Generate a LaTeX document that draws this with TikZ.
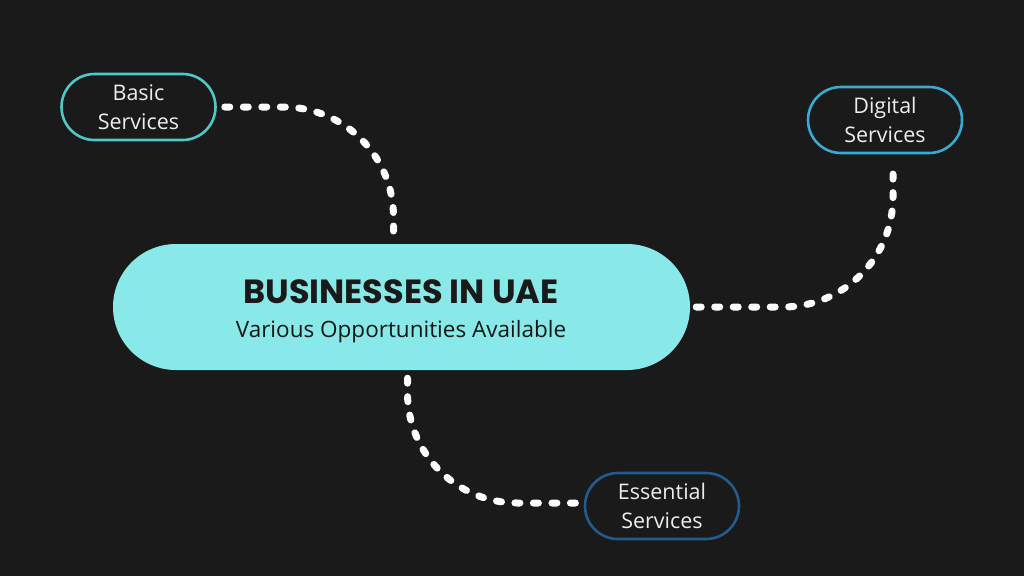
\documentclass[tikz,border=0pt]{standalone}
\usepackage{fontspec}
\setmainfont{Open Sans}
\newfontfamily\titlefont{Poppins}
\usetikzlibrary{shapes.misc}

\definecolor{bgcol}{HTML}{1A1A1A}
\definecolor{maincol}{HTML}{88E9E8}
\definecolor{basiccol}{HTML}{4FC8C6}
\definecolor{digitalcol}{HTML}{3AAAD0}
\definecolor{essentialcol}{HTML}{245A8C}
\definecolor{textcol}{HTML}{EDEDED}

\tikzset{
  service/.style={rounded rectangle, draw, line width=2.6pt, minimum width=154pt,
    minimum height=66pt, inner sep=0pt, align=center, text=textcol,
    font=\fontsize{21.5}{29}\selectfont},
  link/.style={draw=white, line width=7pt, line cap=round,
    dash pattern=on 5pt off 13.5pt, rounded corners=110pt}
}

\begin{document}
\begin{tikzpicture}[x=1pt, y=-1pt]
    \fill[bgcol] (0,0) rectangle (1024,576);
    \useasboundingbox (0,0) rectangle (1024,576);
    % centre
    \node [rounded rectangle, fill=maincol, minimum width=577pt, minimum height=126pt,
      inner sep=0pt] (biz) at (401.5,307) {};
    \node [font=\titlefont\bfseries\fontsize{33.5}{35}\selectfont, text=bgcol] (title) at (401,292) {BUSINESSES IN UAE};
    \node [font=\fontsize{22.5}{24}\selectfont, text=bgcol!90!black] (sub) at (401,332) {Various Opportunities Available};
    % services
    \node [service, draw=basiccol] (basic) at (138.5,107) {Basic\\Services};
    \node [service, draw=digitalcol] (digital) at (885,120) {Digital\\Services};
    \node [service, draw=essentialcol] (essential) at (662,506) {Essential\\Services};
    % links
    \draw [link] ([xshift=8pt]basic.east) -| ([xshift=-8pt,yshift=8pt]biz.north);
    \draw [link] ([xshift=6pt]biz.east) -| ([xshift=8pt,yshift=-10pt]digital.south);
    \draw [link] ([xshift=6pt,yshift=-8pt]biz.south) |- ([xshift=-8pt,yshift=3pt]essential.west);
\end{tikzpicture}
\end{document}
